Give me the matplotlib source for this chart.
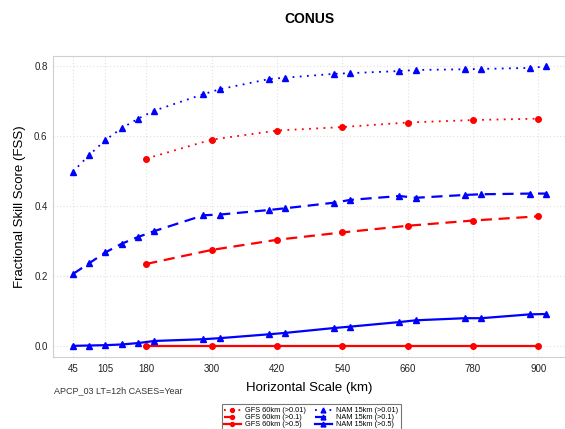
import matplotlib
matplotlib.use("Agg")
import matplotlib.pyplot as plt
from matplotlib.legend_handler import HandlerLine2D

# escalas horizontales (km)
gfs_x = [180, 300, 420, 540, 660, 780, 900]
nam_x = [45, 75, 105, 135, 165, 195, 285, 315, 405, 435, 525, 555, 645, 675, 765, 795, 885, 915]

# FSS por umbral
gfs_001 = [0.535, 0.589, 0.615, 0.625, 0.638, 0.645, 0.649]
gfs_01 = [0.234, 0.274, 0.303, 0.324, 0.343, 0.358, 0.370]
gfs_05 = [0.0, 0.0, 0.0, 0.0, 0.0, 0.0, 0.0]

nam_001 = [0.497, 0.545, 0.588, 0.622, 0.649, 0.672, 0.719, 0.733, 0.762, 0.766,
           0.777, 0.779, 0.785, 0.788, 0.790, 0.791, 0.794, 0.798]
nam_01 = [0.205, 0.236, 0.267, 0.292, 0.311, 0.328, 0.373, 0.375, 0.388, 0.393,
          0.409, 0.417, 0.428, 0.423, 0.431, 0.433, 0.435, 0.435]
nam_05 = [0.0, 0.001, 0.002, 0.004, 0.008, 0.014, 0.019, 0.022, 0.033, 0.037,
          0.051, 0.055, 0.068, 0.073, 0.079, 0.079, 0.090, 0.091]

xticks = [45, 105, 180, 300, 420, 540, 660, 780, 900]
yticks = [0.0, 0.2, 0.4, 0.6, 0.8]


# marcador al final de la linea en la leyenda
class HandlerEnd(HandlerLine2D):
    def get_xdata(self, legend, xdescent, ydescent, width, height, fontsize):
        xdata = [-xdescent, -xdescent + width]
        return xdata, [-xdescent + width]


plt.rcParams["font.family"] = ["Liberation Sans", "DejaVu Sans"]

fig = plt.figure(figsize=(5.65, 4.29), dpi=100)
ax = fig.add_axes([0.094, 0.1685, 0.906, 0.701])

dot = (0, (1, 3))
dash = (0, (5, 3))

ax.plot(gfs_x, gfs_001, color="red", ls=dot, lw=1.3, marker="o", ms=4, label="GFS 60km (>0.01)")
ax.plot(gfs_x, gfs_01, color="red", ls=dash, lw=1.6, marker="o", ms=4, label="GFS 60km (>0.1)")
ax.plot(gfs_x, gfs_05, color="red", ls="-", lw=1.6, marker="o", ms=4, label="GFS 60km (>0.5)")
ax.plot(nam_x, nam_001, color="blue", ls=dot, lw=1.3, marker="^", ms=5, label="NAM 15km (>0.01)")
ax.plot(nam_x, nam_01, color="blue", ls=dash, lw=1.6, marker="^", ms=5, label="NAM 15km (>0.1)")
ax.plot(nam_x, nam_05, color="blue", ls="-", lw=1.6, marker="^", ms=5, label="NAM 15km (>0.5)")

ax.set_xlim(8.8, 949)
ax.set_ylim(-0.031, 0.828)
ax.set_xticks(xticks)
ax.set_yticks(yticks)
ax.set_yticklabels([f"{v:.1f}" for v in yticks])
ax.tick_params(axis="both", labelsize=7, length=0, colors="#222222")
ax.tick_params(axis="x", pad=5)
ax.tick_params(axis="y", pad=4)
ax.grid(True, color="#e0e0e0", ls=(0, (1, 2)), lw=0.8)
for s in ["left", "bottom", "top"]:
    ax.spines[s].set_color("#d0d0d0")
ax.spines["right"].set_visible(False)

ax.set_title("CONUS", fontsize=10, fontweight="bold", pad=24)
ax.set_xlabel("Horizontal Scale (km)", fontsize=9.5, labelpad=6)
ax.set_ylabel("Fractional Skill Score (FSS)", fontsize=9.5, labelpad=5.5)
fig.text(0.095, 0.083, "APCP_03 LT=12h CASES=Year", fontsize=6.5, color="#333333")

handles, labels = ax.get_legend_handles_labels()
leg = fig.legend(handles, labels, loc="upper left", bbox_to_anchor=(0.386, 0.066), ncol=2,
                 fontsize=5.3, frameon=True, fancybox=False, edgecolor="#555555",
                 handlelength=2.2, labelspacing=0.0, columnspacing=1.3, borderpad=0.35,
                 handletextpad=0.6, markerscale=0.7, handler_map={h: HandlerEnd(numpoints=1) for h in handles})
leg.get_frame().set_linewidth(0.8)

fig.savefig("out.png", dpi=100)
